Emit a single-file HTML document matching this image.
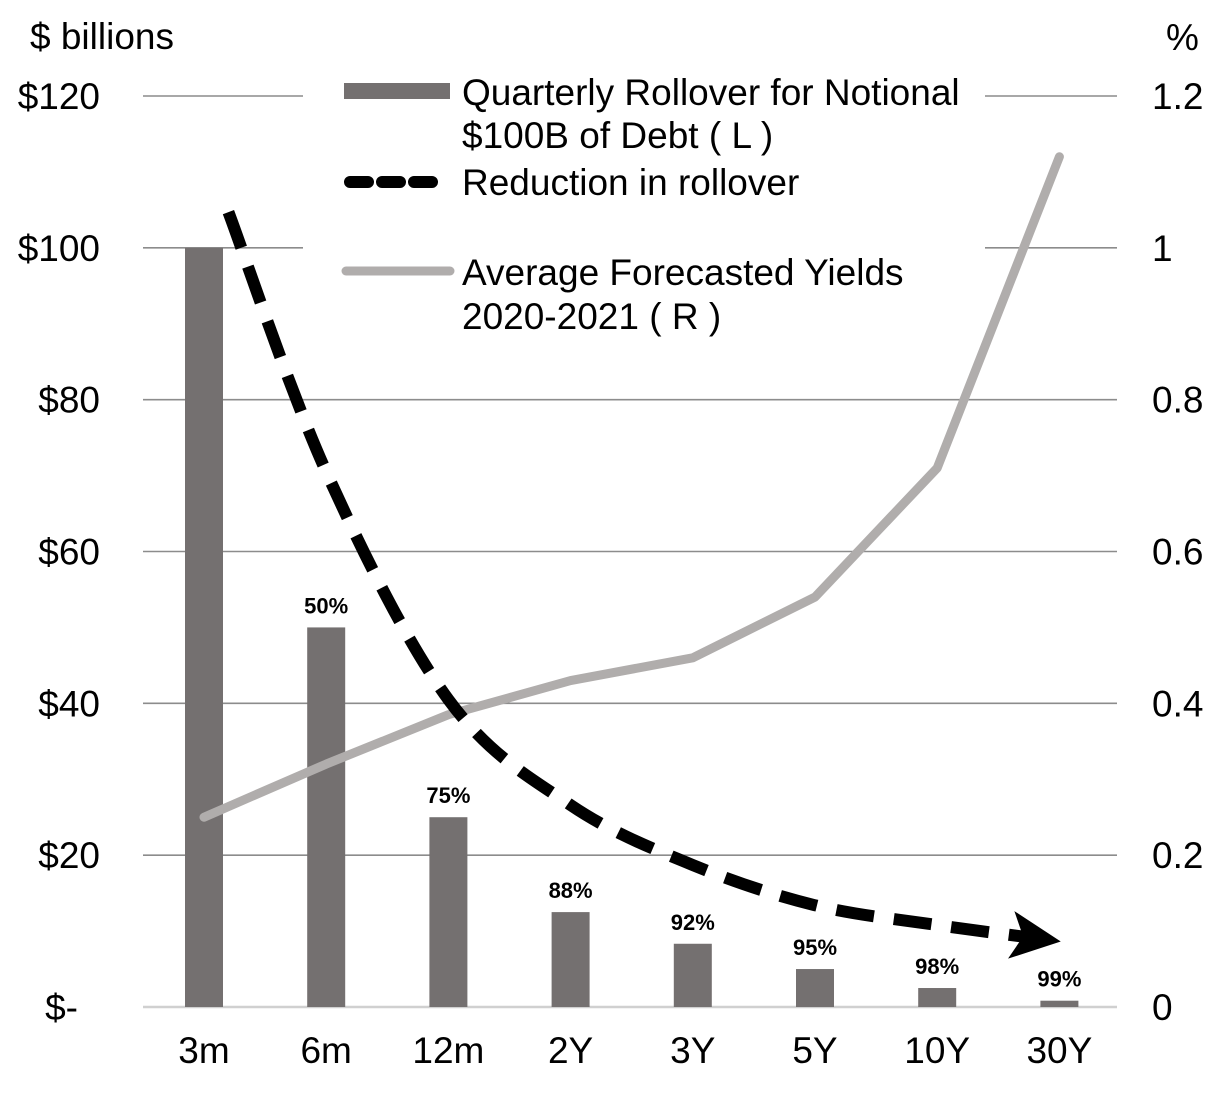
<!DOCTYPE html>
<html><head><meta charset="utf-8"><style>
body{margin:0;background:#fff}
svg{display:block;font-family:"Liberation Sans",Arial,sans-serif}
</style></head><body>
<svg id="chart" width="1212" height="1105">
<g id="grid"></g>
<rect x="303" y="60" width="682" height="275" fill="#fff"/>
<g id="bars"></g>
<g id="labels"></g>
<path id="yield" fill="none" stroke="#b0adac" stroke-width="9" stroke-linecap="round" stroke-linejoin="round"/>
<path id="reduction" fill="none" stroke="#000" stroke-width="12" stroke-dasharray="38,20"/>
<polygon id="arrow" fill="#000"/>
<g id="axes" font-size="37" fill="#000"></g>
<text x="30" y="49" font-size="37">$ billions</text>
<text x="1166" y="50" font-size="37">%</text>
<g font-size="37">
<rect x="344" y="83" width="106" height="16" fill="#747070"/>
<text x="462" y="105">Quarterly Rollover for Notional</text>
<text x="462" y="148">$100B of Debt ( L )</text>
<line x1="350" y1="182" x2="440" y2="182" stroke="#000" stroke-width="12" stroke-linecap="round" stroke-dasharray="18,14"/>
<text x="462" y="195">Reduction in rollover</text>
<line x1="346" y1="271" x2="450" y2="271" stroke="#b0adac" stroke-width="9" stroke-linecap="round"/>
<text x="462" y="285">Average Forecasted Yields</text>
<text x="462" y="329">2020-2021 ( R )</text>
</g>
</svg>
<script>
const categories=["3m","6m","12m","2Y","3Y","5Y","10Y","30Y"];
const rollover=[100,50,25,12.5,8.33,5,2.5,0.83];
const pctLabels=["","50%","75%","88%","92%","95%","98%","99%"];
const yields=[0.25,0.32,0.385,0.43,0.46,0.54,0.71,1.12];
const reductionIdx=[0.2,1,2,3,4,5,6,6.93];
const reductionVal=[104.7,70.5,40.5,26.6,18.7,13.4,10.8,8.8];
const leftTicks=[0,20,40,60,80,100,120];
const leftTickLabels=["$-  ","$20","$40","$60","$80","$100","$120"];
const rightTicks=[0,0.2,0.4,0.6,0.8,1,1.2];
const rightTickLabels=["0","0.2","0.4","0.6","0.8","1","1.2"];

const NS="http://www.w3.org/2000/svg";
const X0=143,X1=1117,Y0=1007,Y1=96;
const xc=i=>204+i*122.2;
const yL=v=>Y0-(v/120)*(Y0-Y1);
const yR=v=>Y0-(v/1.2)*(Y0-Y1);
function mk(tag,attrs,parent){const e=document.createElementNS(NS,tag);for(const k in attrs)e.setAttribute(k,attrs[k]);parent.appendChild(e);return e;}
const grid=document.getElementById('grid'),axes=document.getElementById('axes');
leftTicks.forEach((t,i)=>{
 const g=mk('line',{x1:X0,x2:X1,y1:yL(t),y2:yL(t),stroke:t===0?'#d0d0d0':'#8c8c8c','stroke-width':t===0?2.5:1.6},grid);
 
 
 const l=mk('text',{x:t===0?78:100,y:yL(t)+13,'text-anchor':'end'},axes);l.textContent=leftTickLabels[i].trim();
 
 
});
rightTicks.forEach((t,i)=>{
 const l=mk('text',{x:1152,y:yR(t)+13},axes);l.textContent=rightTickLabels[i];
 
 
});
const bars=document.getElementById('bars'),labs=document.getElementById('labels');
categories.forEach((c,i)=>{
 const b=mk('rect',{x:xc(i)-19,width:38,y:yL(rollover[i]),height:Y0-yL(rollover[i]),fill:'#747070'},bars);
 
 
 const t=mk('text',{x:xc(i),y:1063,'text-anchor':'middle'},axes);t.textContent=c;
 
 
 if(pctLabels[i]){const p=mk('text',{x:xc(i),y:yL(rollover[i])-14,'text-anchor':'middle','font-size':22,'font-weight':'bold'},labs);p.textContent=pctLabels[i];
 
 }
});
document.getElementById('yield').setAttribute('d',yields.map((v,i)=>(i?'L':'M')+xc(i)+','+yR(v)).join(''));
const pts=reductionIdx.map((k,i)=>[xc(k),yL(reductionVal[i])]);
let d='M'+pts[0][0]+','+pts[0][1];
for(let i=0;i<pts.length-1;i++){const p0=pts[Math.max(0,i-1)],p1=pts[i],p2=pts[i+1],p3=pts[Math.min(pts.length-1,i+2)];
 d+='C'+(p1[0]+(p2[0]-p0[0])/6)+','+(p1[1]+(p2[1]-p0[1])/6)+' '+(p2[0]-(p3[0]-p1[0])/6)+','+(p2[1]-(p3[1]-p1[1])/6)+' '+p2[0]+','+p2[1];}
const n=pts.length,e=pts[n-1],pr=pts[n-2];
const ang=Math.atan2(e[1]-pr[1],e[0]-pr[0]);
const tipX=e[0]+10*Math.cos(ang),tipY=e[1]+10*Math.sin(ang);
document.getElementById('reduction').setAttribute('d',d);
const L=50,W=24,bx=tipX-L*Math.cos(ang),by=tipY-L*Math.sin(ang);
document.getElementById('arrow').setAttribute('points',[tipX,tipY,bx-W*Math.sin(ang),by+W*Math.cos(ang),bx+12*Math.cos(ang),by+12*Math.sin(ang),bx+W*Math.sin(ang),by-W*Math.cos(ang)].join(','));
</script>
</body></html>
